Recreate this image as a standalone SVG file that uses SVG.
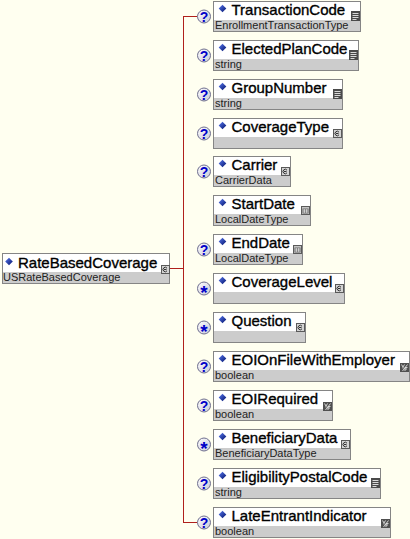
<svg xmlns="http://www.w3.org/2000/svg" xmlns:xlink="http://www.w3.org/1999/xlink" width="410" height="539" viewBox="0 0 410 539">
<style>
.bg{fill:#fffff0}
.box{fill:#ffffff;stroke:#858585;stroke-width:1}
.band{fill:#cccccc}
.nm{font-family:"Liberation Sans",Arial,sans-serif;font-size:15px;fill:#000;stroke:#000;stroke-width:0.35}
.tp{font-family:"Liberation Sans",Arial,sans-serif;font-size:11px;fill:#222}
.occ{fill:url(#occg);stroke:#6f6f8f;stroke-width:1}
.q{font-family:"Liberation Sans",Arial,sans-serif;font-weight:bold;font-size:14px;fill:#0000c8;text-anchor:middle}
.st{font-family:"Liberation Sans",Arial,sans-serif;font-weight:bold;font-size:19px;fill:#0000c8;text-anchor:middle}
.con{stroke:#b0201c;stroke-width:1;fill:none}
</style>
<defs>
<linearGradient id="occg" x1="0" y1="0" x2="1" y2="1">
<stop offset="0" stop-color="#ffffff"/>
<stop offset="1" stop-color="#c8c8d8"/>
</linearGradient>
<linearGradient id="diag" x1="0" y1="0" x2="1" y2="1">
<stop offset="0" stop-color="#5a7af0"/>
<stop offset="1" stop-color="#00106a"/>
</linearGradient>
<path id="dia" d="M0,-3.8 L3.8,0 L0,3.8 L-3.8,0Z" fill="url(#diag)"/>
<g id="ic-s">
<rect x="0" y="0" width="9" height="10" fill="#4a4a4a"/>
<path d="M1.5,2.5H7.5M1.5,4.5H7.5M1.5,6.5H7.5M1.5,8.5H5.5" stroke="#d8d8d8" stroke-width="1"/>
</g>
<g id="ic-c">
<rect x="0.5" y="0.5" width="8" height="8" fill="#d4d4d4" stroke="#5a5a5a"/>
<path d="M6,3.2 A2.2,2.2 0 1 0 6,5.8 M3,4.5H5.5" stroke="#303030" stroke-width="1" fill="none"/>
</g>
<g id="ic-d">
<rect x="0.5" y="0.5" width="8" height="8" fill="#c4c4c4" stroke="#5a5a5a"/>
<rect x="2" y="3" width="5" height="4" fill="#ffffff" stroke="#5a5a5a" stroke-width="0.8"/>
<path d="M2,5H7M4.5,3V7" stroke="#5a5a5a" stroke-width="0.6"/>
</g>
<g id="ic-b">
<rect x="0" y="0" width="9" height="9" fill="#505050"/>
<path d="M1.5,1.5L3,4M4.5,1.5L3,4V5.5M7.5,1.5L2.5,8M5,4.5V8M5,4.5H7.5M5,6H7" stroke="#e0e0e0" stroke-width="0.9" fill="none"/>
</g>
<g id="opt">
<circle class="occ" cx="0" cy="0" r="6.5"/>
<text class="q" x="0" y="5">?</text>
</g>
<g id="many">
<circle class="occ" cx="0" cy="0" r="6.5"/>
<text class="st" x="0" y="10.5">*</text>
</g>
</defs>
<rect class="bg" x="0" y="0" width="410" height="539"/>

<g id="connectors">
<path class="con" d="M183.5,16.5V522.5M183,16.5H197.5M183,522.5H197.5M170,268.5H183.5"/>
</g>

<g id="RateBasedCoverage" transform="translate(2,253)">
<rect class="box" x="0.5" y="0.5" width="167" height="30"/>
<rect class="band" x="1" y="19" width="166" height="11"/>
<use xlink:href="#dia" x="7" y="8.5"/>
<text class="nm" x="16" y="14.5">RateBasedCoverage</text>
<text class="tp" x="1" y="28">USRateBasedCoverage</text>
<use xlink:href="#ic-c" x="159" y="12"/>
</g>

<g id="TransactionCode" transform="translate(213,1)">
<use xlink:href="#opt" x="-9" y="15.5"/>
<rect class="box" x="0.5" y="0.5" width="147" height="30"/>
<rect class="band" x="1" y="19" width="146" height="11"/>
<use xlink:href="#dia" x="9.5" y="7.5"/>
<text class="nm" x="18.5" y="14">TransactionCode</text>
<text class="tp" x="2" y="28">EnrollmentTransactionType</text>
<use xlink:href="#ic-s" x="138" y="10"/>
</g>

<g id="ElectedPlanCode" transform="translate(213,40)">
<use xlink:href="#opt" x="-9" y="15.5"/>
<rect class="box" x="0.5" y="0.5" width="145" height="30"/>
<rect class="band" x="1" y="19" width="144" height="11"/>
<use xlink:href="#dia" x="9.5" y="7.5"/>
<text class="nm" x="18.5" y="14">ElectedPlanCode</text>
<text class="tp" x="2" y="28">string</text>
<use xlink:href="#ic-s" x="136" y="10"/>
</g>

<g id="GroupNumber" transform="translate(213,79)">
<use xlink:href="#opt" x="-9" y="15.5"/>
<rect class="box" x="0.5" y="0.5" width="129" height="30"/>
<rect class="band" x="1" y="19" width="128" height="11"/>
<use xlink:href="#dia" x="9.5" y="7.5"/>
<text class="nm" x="18.5" y="14">GroupNumber</text>
<text class="tp" x="2" y="28">string</text>
<use xlink:href="#ic-s" x="120" y="10"/>
</g>

<g id="CoverageType" transform="translate(213,118)">
<use xlink:href="#opt" x="-9" y="15.5"/>
<rect class="box" x="0.5" y="0.5" width="129" height="30"/>
<rect class="band" x="1" y="19" width="128" height="11"/>
<use xlink:href="#dia" x="9.5" y="7.5"/>
<text class="nm" x="18.5" y="14">CoverageType</text>
<use xlink:href="#ic-c" x="120" y="11"/>
</g>

<g id="Carrier" transform="translate(213,156)">
<use xlink:href="#opt" x="-9" y="15.5"/>
<rect class="box" x="0.5" y="0.5" width="77" height="30"/>
<rect class="band" x="1" y="19" width="76" height="11"/>
<use xlink:href="#dia" x="9.5" y="7.5"/>
<text class="nm" x="18.5" y="14">Carrier</text>
<text class="tp" x="2" y="28">CarrierData</text>
<use xlink:href="#ic-c" x="68" y="11"/>
</g>

<g id="StartDate" transform="translate(213,195)">
<rect class="box" x="0.5" y="0.5" width="97" height="30"/>
<rect class="band" x="1" y="19" width="96" height="11"/>
<use xlink:href="#dia" x="9.5" y="7.5"/>
<text class="nm" x="18.5" y="14">StartDate</text>
<text class="tp" x="2" y="28">LocalDateType</text>
<use xlink:href="#ic-d" x="88" y="11"/>
</g>

<g id="EndDate" transform="translate(213,234)">
<use xlink:href="#opt" x="-9" y="15.5"/>
<rect class="box" x="0.5" y="0.5" width="89" height="30"/>
<rect class="band" x="1" y="19" width="88" height="11"/>
<use xlink:href="#dia" x="9.5" y="7.5"/>
<text class="nm" x="18.5" y="14">EndDate</text>
<text class="tp" x="2" y="28">LocalDateType</text>
<use xlink:href="#ic-d" x="80" y="11"/>
</g>

<g id="CoverageLevel" transform="translate(213,273)">
<use xlink:href="#many" x="-9" y="15.5"/>
<rect class="box" x="0.5" y="0.5" width="131" height="30"/>
<rect class="band" x="1" y="19" width="130" height="11"/>
<use xlink:href="#dia" x="9.5" y="7.5"/>
<text class="nm" x="18.5" y="14">CoverageLevel</text>
<use xlink:href="#ic-c" x="122" y="11"/>
</g>

<g id="Question" transform="translate(213,312)">
<use xlink:href="#many" x="-9" y="15.5"/>
<rect class="box" x="0.5" y="0.5" width="92" height="30"/>
<rect class="band" x="1" y="19" width="91" height="11"/>
<use xlink:href="#dia" x="9.5" y="7.5"/>
<text class="nm" x="18.5" y="14">Question</text>
<use xlink:href="#ic-c" x="83" y="11"/>
</g>

<g id="EOIOnFileWithEmployer" transform="translate(213,351)">
<use xlink:href="#opt" x="-9" y="15.5"/>
<rect class="box" x="0.5" y="0.5" width="196" height="30"/>
<rect class="band" x="1" y="19" width="195" height="11"/>
<use xlink:href="#dia" x="9.5" y="7.5"/>
<text class="nm" x="18.5" y="14">EOIOnFileWithEmployer</text>
<text class="tp" x="2" y="28">boolean</text>
<use xlink:href="#ic-b" x="187" y="12"/>
</g>

<g id="EOIRequired" transform="translate(213,390)">
<use xlink:href="#opt" x="-9" y="15.5"/>
<rect class="box" x="0.5" y="0.5" width="119" height="30"/>
<rect class="band" x="1" y="19" width="118" height="11"/>
<use xlink:href="#dia" x="9.5" y="7.5"/>
<text class="nm" x="18.5" y="14">EOIRequired</text>
<text class="tp" x="2" y="28">boolean</text>
<use xlink:href="#ic-b" x="110" y="12"/>
</g>

<g id="BeneficiaryData" transform="translate(213,429)">
<use xlink:href="#many" x="-9" y="15.5"/>
<rect class="box" x="0.5" y="0.5" width="137" height="30"/>
<rect class="band" x="1" y="19" width="136" height="11"/>
<use xlink:href="#dia" x="9.5" y="7.5"/>
<text class="nm" x="18.5" y="14">BeneficiaryData</text>
<text class="tp" x="2" y="28">BeneficiaryDataType</text>
<use xlink:href="#ic-c" x="128" y="11"/>
</g>

<g id="EligibilityPostalCode" transform="translate(213,468)">
<use xlink:href="#opt" x="-9" y="15.5"/>
<rect class="box" x="0.5" y="0.5" width="167" height="30"/>
<rect class="band" x="1" y="19" width="166" height="11"/>
<use xlink:href="#dia" x="9.5" y="7.5"/>
<text class="nm" x="18.5" y="14">EligibilityPostalCode</text>
<text class="tp" x="2" y="28">string</text>
<use xlink:href="#ic-s" x="158" y="10"/>
</g>

<g id="LateEntrantIndicator" transform="translate(213,507)">
<use xlink:href="#opt" x="-9" y="15.5"/>
<rect class="box" x="0.5" y="0.5" width="177" height="30"/>
<rect class="band" x="1" y="19" width="176" height="11"/>
<use xlink:href="#dia" x="9.5" y="7.5"/>
<text class="nm" x="18.5" y="14">LateEntrantIndicator</text>
<text class="tp" x="2" y="28">boolean</text>
<use xlink:href="#ic-b" x="168" y="12"/>
</g>
</svg>
